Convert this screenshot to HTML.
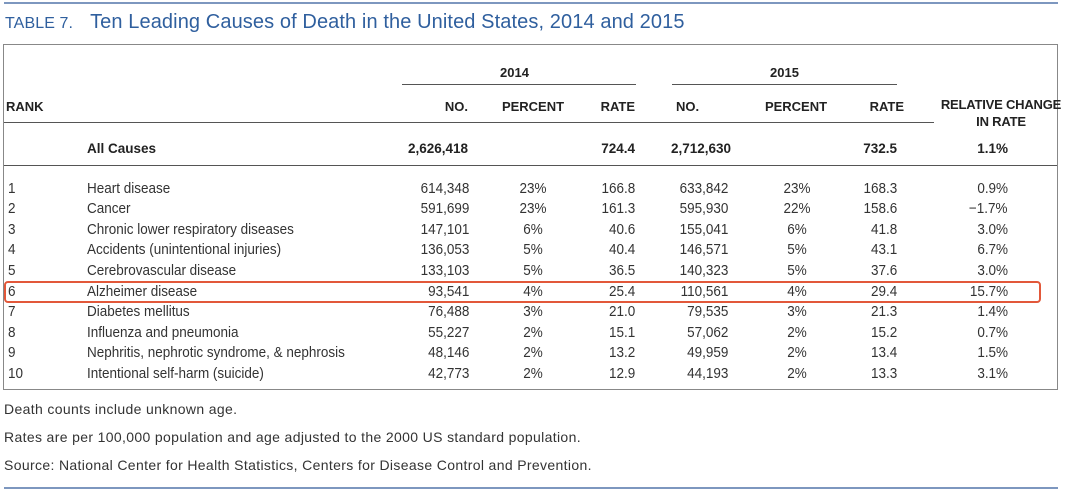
<!DOCTYPE html>
<html><head><meta charset="utf-8">
<style>
body{margin:0;width:1080px;height:493px;background:#fff;position:relative;overflow:hidden;font-family:"Liberation Sans",sans-serif;color:#2b2b2b}
.a{position:absolute;white-space:nowrap;line-height:1}
.h{font-weight:bold;font-size:13px;color:#222}
.d{font-size:14.5px;color:#333;transform:scaleX(0.93)}
.r{text-align:right}
.c{text-align:center}
.ln{position:absolute;background:#555}
.f{font-size:14px;color:#333;letter-spacing:0.35px}
</style></head><body>
<div class="ln" style="left:4px;top:2px;width:1054px;height:2px;background:#7d97bf"></div>
<div class="a" style="left:5px;top:12px;font-size:20px;color:#2f5f9e;letter-spacing:0.1px"><span style="font-size:16px">TABLE 7.</span>&nbsp;&nbsp;&nbsp;Ten Leading Causes of Death in the United States, 2014 and 2015</div>
<div style="position:absolute;left:3px;top:44px;width:1053px;height:344px;border:1px solid #888"></div>
<div class="a h" style="left:500px;top:66px">2014</div>
<div class="ln" style="left:402px;top:84px;width:234px;height:1px"></div>
<div class="a h" style="left:770px;top:66px">2015</div>
<div class="ln" style="left:672px;top:84px;width:225px;height:1px"></div>
<div class="a h" style="left:6px;top:100px">RANK</div>
<div class="a h r" style="right:612px;top:100px">NO.</div>
<div class="a h c" style="left:483px;width:100px;top:100px">PERCENT</div>
<div class="a h r" style="right:445px;top:100px">RATE</div>
<div class="a h" style="left:676px;top:100px">NO.</div>
<div class="a h c" style="left:746px;width:100px;top:100px">PERCENT</div>
<div class="a h r" style="right:176px;top:100px">RATE</div>
<div class="a h c" style="left:936px;width:130px;top:96px;line-height:17px;letter-spacing:-0.2px">RELATIVE CHANGE<br>IN RATE</div>
<div class="ln" style="left:4px;top:122px;width:930px;height:1px"></div>
<div class="a h" style="left:87px;top:142px;font-size:13.5px">All Causes</div>
<div class="a h r" style="right:612px;top:142px;font-size:13.5px">2,626,418</div>
<div class="a h r" style="right:445px;top:142px;font-size:13.5px">724.4</div>
<div class="a h" style="left:671px;top:142px;font-size:13.5px">2,712,630</div>
<div class="a h r" style="right:183px;top:142px;font-size:13.5px">732.5</div>
<div class="a h r" style="right:72px;top:142px;font-size:13.5px">1.1%</div>
<div class="ln" style="left:4px;top:165px;width:1053px;height:1px"></div>
<div id="rows"></div>
<div style="position:absolute;left:4px;top:281px;width:1033px;height:18px;border:2px solid #e2583a;border-radius:4px"></div>
<div class="a f" style="left:4px;top:402px">Death counts include unknown age.</div>
<div class="a f" style="left:4px;top:430px">Rates are per 100,000 population and age adjusted to the 2000 US standard population.</div>
<div class="a f" style="left:4px;top:458px">Source: National Center for Health Statistics, Centers for Disease Control and Prevention.</div>
<div class="ln" style="left:4px;top:487px;width:1054px;height:2px;background:#7d97bf"></div>
<script>
const causes=["Heart disease","Cancer","Chronic lower respiratory diseases","Accidents (unintentional injuries)","Cerebrovascular disease","Alzheimer disease","Diabetes mellitus","Influenza and pneumonia","Nephritis, nephrotic syndrome, & nephrosis","Intentional self-harm (suicide)"];
const no2014=["614,348","591,699","147,101","136,053","133,103","93,541","76,488","55,227","48,146","42,773"];
const pct2014=["23%","23%","6%","5%","5%","4%","3%","2%","2%","2%"];
const rate2014=["166.8","161.3","40.6","40.4","36.5","25.4","21.0","15.1","13.2","12.9"];
const no2015=["633,842","595,930","155,041","146,571","140,323","110,561","79,535","57,062","49,959","44,193"];
const pct2015=["23%","22%","6%","5%","5%","4%","3%","2%","2%","2%"];
const rate2015=["168.3","158.6","41.8","43.1","37.6","29.4","21.3","15.2","13.4","13.3"];
const change=["0.9%","\u22121.7%","3.0%","6.7%","3.0%","15.7%","1.4%","0.7%","1.5%","3.1%"];
const root=document.getElementById('rows');
function cell(txt,style,origin){const d=document.createElement('div');d.className='a d';d.textContent=txt;d.style.cssText=style;d.style.transformOrigin=origin;root.appendChild(d);return d;}
causes.forEach((c,i)=>{
  const y=181.5+i*20.6;
  let e;
  e=cell(String(i+1),'left:8px;top:'+y+'px','left');
  
  
  e=cell(c,'left:87px;top:'+y+'px','left');
  
  
  e=cell(no2014[i],'right:611px;top:'+y+'px;text-align:right','right');
  
  
  e=cell(pct2014[i],'left:483px;width:100px;text-align:center;top:'+y+'px','center');
  
  
  e=cell(rate2014[i],'right:445px;top:'+y+'px;text-align:right','right');
  
  
  e=cell(no2015[i],'right:352px;top:'+y+'px;text-align:right','right');
  
  
  e=cell(pct2015[i],'left:747px;width:100px;text-align:center;top:'+y+'px','center');
  
  
  e=cell(rate2015[i],'right:183px;top:'+y+'px;text-align:right','right');
  
  
  e=cell(change[i],'right:72px;top:'+y+'px;text-align:right','right');
  
  
});
</script>
</body></html>
